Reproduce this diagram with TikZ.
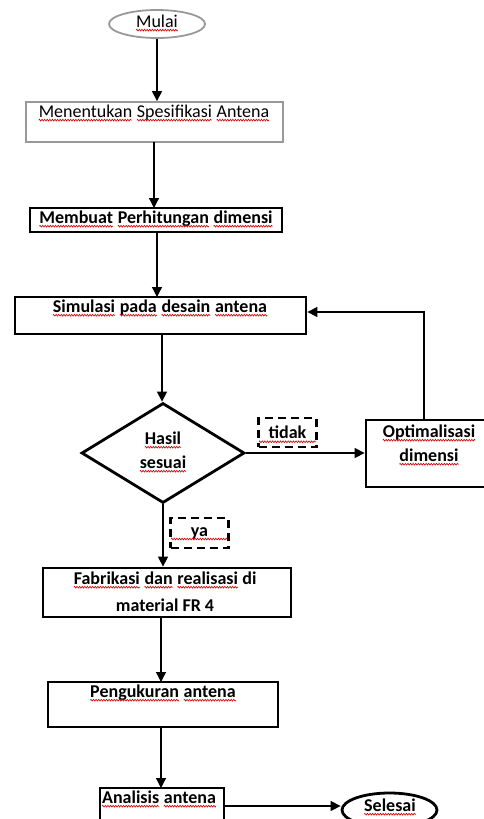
\documentclass[tikz,border=0pt]{standalone}
\usepackage{fontspec}
\setmainfont{Carlito}
\usetikzlibrary{shapes.geometric,arrows.meta,decorations.pathmorphing}
\newcommand\rw[1]{\tikz[baseline=(w.base)]{\node[inner sep=0pt,outer sep=0pt](w){#1};\draw[red!80!black,line width=0.6pt,decorate,decoration={zigzag,amplitude=0.9pt,segment length=2.6pt}] ([yshift=-3pt]w.base west) -- ([yshift=-3pt]w.base east);}}
\begin{document}
\begin{tikzpicture}[x=1pt,y=-1pt,
  thickbox/.style={draw=black, line width=2.8pt, rectangle, inner sep=0pt},
  graybox/.style={draw=black!40, line width=1.8pt, inner sep=0pt},
  arr/.style={-{Triangle[length=10pt,width=10pt]}, line width=1.3pt},
  txt/.style={font=\fontsize{18}{26}\selectfont\bfseries, inner sep=0pt, align=center},
  rtxt/.style={font=\fontsize{18}{26}\selectfont, inner sep=0pt, align=center},
  dbox/.style={draw=black, line width=2.6pt, dash pattern=on 8pt off 5pt, inner sep=0pt, font=\fontsize{18}{22}\selectfont\bfseries}]
\useasboundingbox[fill=white] (0,0) rectangle (483,819);

% shapes
\node[graybox, ellipse, minimum width=96pt, minimum height=28pt] (mulai) at (157,24) {};
\node[rtxt] (tmulai) at (157,23) {\rw{Mulai}};

\node[graybox, rectangle, minimum width=257pt, minimum height=40pt] (spec) at (154.5,122) {};
\node[rtxt] (tspec) at (154,113) {\rw{Menentukan} \rw{Spesifikasi} \rw{Antena}};

\node[thickbox, minimum width=252pt, minimum height=24pt] (calc) at (156,220) {};
\node[txt] (tcalc) at (156,219) {\rw{Membuat} \rw{Perhitungan} \rw{dimensi}};

\node[thickbox, minimum width=291pt, minimum height=37pt] (sim) at (160.5,315.5) {};
\node[txt] (tsim) at (160,308) {\rw{Simulasi} \rw{pada} \rw{desain} \rw{antena}};

\node[draw=black, line width=2.8pt, diamond, minimum width=163pt, minimum height=100pt, inner sep=0pt] (dia) at (163,453) {};
\node[txt] (thasil) at (163,440) {\rw{Hasil}};
\node[txt] (tsesuai) at (163,464) {\rw{sesuai}};

\node[thickbox, minimum width=124pt, minimum height=67pt] (opt) at (428,453.5) {};
\node[txt] (topt1) at (429,433) {\rw{Optimalisasi}};
\node[txt] (topt2) at (429,457) {\rw{dimensi}};

\node[dbox, minimum width=57pt, minimum height=29pt] (tidak) at (287.5,432.5) {\rw{tidak}};
\node[dbox, minimum width=57pt, minimum height=30pt] (ya) at (199.5,533) {\rw{ya}};

\node[thickbox, minimum width=248pt, minimum height=49pt] (fab) at (167,592.5) {};
\node[txt] (tfab1) at (165,580) {\rw{Fabrikasi} \rw{dan} \rw{realisasi} di};
\node[txt] (tfab2) at (165,605) {material FR 4};

\node[thickbox, minimum width=124pt, minimum height=50pt] (anal) at (162,813) {};
\node[txt] (tanal) at (159,799) {\rw{Analisis} \rw{antena}};

\node[thickbox, minimum width=230pt, minimum height=45pt] (peng) at (163,704.5) {};
\node[txt] (tpeng) at (163,693) {\rw{Pengukuran} \rw{antena}};

\node[draw=black, line width=2.8pt, ellipse, minimum width=95pt, minimum height=34pt, inner sep=0pt] (sel) at (389.5,810) {};
\node[txt] (tsel) at (390,807) {\rw{Selesai}};

% connectors
\draw[arr] (mulai.south) -- (mulai.south |- spec.north);
\draw[arr] (154,142) -- (154,208);
\draw[arr] (157,232) -- (157,297);
\draw[arr] (162,334) -- (dia.north -| 162,0);
\draw[arr] (dia.east) -- (dia.east -| opt.west);
\draw[arr] (opt.north -| 424,0) |- (sim.east |- 0,312);
\draw[arr] (dia.south) -- (dia.south |- fab.north);
\draw[arr] (161,617) -- (161,682);
\draw[arr] (161,727) -- (161,788);
\draw[arr] (anal.east |- 0,806) -- (sel.west |- 0,806);
\end{tikzpicture}
\end{document}
